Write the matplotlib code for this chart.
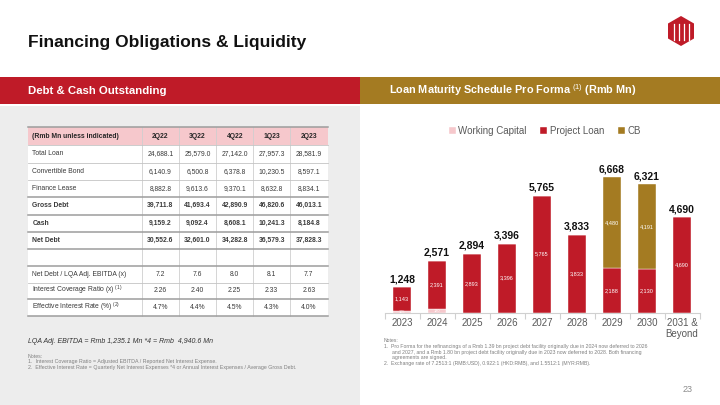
import numpy as np
import matplotlib
matplotlib.use('Agg')
import matplotlib.pyplot as plt
from matplotlib.patches import Rectangle, Polygon

plt.rcParams['font.family'] = ['Liberation Sans', 'DejaVu Sans']
plt.rcParams['mathtext.fontset'] = 'custom'
plt.rcParams['mathtext.rm'] = 'Liberation Sans'
plt.rcParams['mathtext.it'] = 'Liberation Sans:italic'
plt.rcParams['mathtext.bf'] = 'Liberation Sans:bold'

# table data (Rmb Mn)
quarters = ['2Q22', '3Q22', '4Q22', '1Q23', '2Q23']
total_loan = [24688.1, 25579.0, 27142.0, 27957.3, 28581.9]
convertible_bond = [6140.9, 6500.8, 6378.8, 10230.5, 8597.1]
finance_lease = [8882.8, 9613.6, 9370.1, 8632.8, 8834.1]
gross_debt = [39711.8, 41693.4, 42890.9, 46820.6, 46013.1]
cash = [9159.2, 9092.4, 8608.1, 10241.3, 8184.8]
net_debt = [30552.6, 32601.0, 34282.8, 36579.3, 37828.3]
net_debt_ebitda = [7.2, 7.6, 8.0, 8.1, 7.7]
interest_coverage = [2.26, 2.40, 2.25, 2.33, 2.63]
effective_rate = [4.7, 4.4, 4.5, 4.3, 4.0]

# maturity schedule data (Rmb Mn)
years = ['2023', '2024', '2025', '2026', '2027', '2028', '2029', '2030', '2031 &\nBeyond']
working_capital = [105, 180, 1, 0, 0, 0, 0, 0, 0]
project_loan = [1143, 2391, 2893, 3396, 5765, 3833, 2188, 2130, 4690]
cb = [0, 0, 0, 0, 0, 0, 4480, 4191, 0]

RED = '#bf1b28'
GOLD = '#a47b22'
PINK = '#f6c8cc'
GREY_TXT = '#595959'
TFS = 4.9  # table font size

fig = plt.figure(figsize=(7.2, 4.05), dpi=100)
bg = fig.add_axes([0, 0, 1, 1], zorder=0)
bg.set_xlim(0, 720)
bg.set_ylim(405, 0)
bg.axis('off')

# panels and header bands
bg.add_patch(Rectangle((0, 105.5), 360, 300, color='#ededed', lw=0))
bg.add_patch(Rectangle((0, 77), 360, 26.5, color=RED, lw=0))
bg.add_patch(Rectangle((360, 77), 360, 26.5, color=GOLD, lw=0))

bg.text(28, 42, 'Financing Obligations & Liquidity', fontsize=12.5, weight='bold',
        va='center', color='#111111')
bg.text(28, 90.5, 'Debt & Cash Outstanding', fontsize=8.2, weight='bold', color='white', va='center')
bg.text(389, 90.5, r'Loan Maturity Schedule Pro Forma $^{(1)}$ (Rmb Mn)', fontsize=7.8,
        weight='bold', color='white', va='center')

# logo
hexagon = [(681, 16), (694, 23.5), (694, 38.5), (681, 46), (668, 38.5), (668, 23.5)]
bg.add_patch(Polygon(hexagon, closed=True, color=RED, lw=0))
for lx in [673.5, 678.5, 683.5, 688.5]:
    bg.plot([lx, lx], [24, 40], color='white', lw=0.9)

# ---- table ----
col_x = [28.3, 141.7, 179, 216, 253.3, 290, 327.5]
row_y = [127, 145, 162.5, 180, 197, 214.5, 232, 249, 265.5, 282.5, 299, 316]

def fmt_num(v):
    return f'{v:,.1f}'

rows = [
    ('Total Loan', [fmt_num(v) for v in total_loan], False),
    ('Convertible Bond', [fmt_num(v) for v in convertible_bond], False),
    ('Finance Lease', [fmt_num(v) for v in finance_lease], False),
    ('Gross Debt', [fmt_num(v) for v in gross_debt], True),
    ('Cash', [fmt_num(v) for v in cash], True),
    ('Net Debt', [fmt_num(v) for v in net_debt], True),
    ('', ['', '', '', '', ''], False),
    ('Net Debt / LQA Adj. EBITDA (x)', [f'{v:.1f}' for v in net_debt_ebitda], False),
    (r'Interest Coverage Ratio (x) $^{(1)}$', [f'{v:.2f}' for v in interest_coverage], False),
    (r'Effective Interest Rate (%) $^{(2)}$', [f'{v:.1f}%' for v in effective_rate], False),
]

bg.add_patch(Rectangle((col_x[0], row_y[0]), col_x[-1] - col_x[0], row_y[1] - row_y[0],
                       color=PINK, lw=0))
bg.add_patch(Rectangle((col_x[0], row_y[1]), col_x[-1] - col_x[0], row_y[-1] - row_y[1],
                       color='white', lw=0))
for cx in col_x[1:-1]:
    bg.plot([cx, cx], [row_y[0], row_y[-1]], color='#cfcfcf', lw=0.6)

thick = {0, 4, 5, 6, 7, 8, 10, 11}
for i, ry in enumerate(row_y):
    if i in thick:
        bg.plot([col_x[0], col_x[-1]], [ry, ry], color='#9d9d9d', lw=1.1)
    else:
        bg.plot([col_x[0], col_x[-1]], [ry, ry], color='#c4c4c4', lw=0.6)

mid = (row_y[0] + row_y[1]) / 2
bg.text(col_x[0] + 4, mid, '(Rmb Mn unless indicated)', fontsize=TFS, weight='bold',
        va='center', color='#262626')
for j, q in enumerate(quarters):
    bg.text((col_x[j + 1] + col_x[j + 2]) / 2, mid, q, fontsize=TFS, weight='bold',
            ha='center', va='center', color='#262626')

for i, (label, vals, bold) in enumerate(rows):
    ymid = (row_y[i + 1] + row_y[i + 2]) / 2
    w = 'bold' if bold else 'normal'
    bg.text(col_x[0] + 4, ymid, label, fontsize=TFS, weight=w, va='center', color='#3a3a3a')
    for j, v in enumerate(vals):
        bg.text((col_x[j + 1] + col_x[j + 2]) / 2, ymid, v, fontsize=TFS, weight=w,
                ha='center', va='center', color='#3a3a3a')

bg.text(28, 341.5, 'LQA Adj. EBITDA = Rmb 1,235.1 Mn *4 = Rmb  4,940.6 Mn', fontsize=5,
        style='italic', va='center', color='#333333')
left_notes = ['Notes:',
              '1.  Interest Coverage Ratio = Adjusted EBITDA / Reported Net Interest Expense.',
              '2.  Effective Interest Rate = Quarterly Net Interest Expenses *4 or Annual Interest Expenses / Average Gross Debt.']
for k, t in enumerate(left_notes):
    bg.text(28, 356 + k * 5.8, t, fontsize=3.8, va='center', color='#7f7f7f')

right_notes = [(384, 'Notes:'),
               (384, '1.  Pro Forma for the refinancings of a Rmb 1.39 bn project debt facility originally due in 2024 now deferred to 2026'),
               (392, 'and 2027, and a Rmb 1.80 bn project debt facility originally due in 2023 now deferred to 2028. Both financing'),
               (392, 'agreements are signed.'),
               (384, '2.  Exchange rate of 7.2513:1 (RMB:USD), 0.922:1 (HKD:RMB), and 1.5512:1 (MYR:RMB).')]
for k, (tx, t) in enumerate(right_notes):
    bg.text(tx, 341 + k * 5.6, t, fontsize=3.7, va='center', color='#7f7f7f')

bg.text(688, 389, '23', fontsize=6.5, ha='center', va='center', color='#8c8c8c')

# ---- maturity chart ----
base_px = 312.7
top_px = 140.0
ax = fig.add_axes([384.5 / 720, 1 - base_px / 405, 315 / 720, (base_px - top_px) / 405], zorder=2)
ax.patch.set_alpha(0)

x = np.arange(len(years))
wc = np.array(working_capital)
pl = np.array(project_loan)
cbv = np.array(cb)
totals = wc + pl + cbv
width = 0.5

ax.bar(x, wc, width, color=PINK, edgecolor='white', linewidth=0.3, label='Working Capital')
ax.bar(x, pl, width, bottom=wc, color=RED, edgecolor='white', linewidth=0.3, label='Project Loan')
ax.bar(x, cbv, width, bottom=wc + pl, color=GOLD, edgecolor='white', linewidth=0.3, label='CB')

for i in range(len(x)):
    if wc[i] > 50:
        ax.text(x[i], wc[i] / 2, f'{wc[i]:,}', fontsize=2.8, ha='center', va='center', color='white')
    if pl[i] > 0:
        ax.text(x[i], wc[i] + pl[i] / 2, f'{pl[i]:,}', fontsize=4, ha='center', va='center', color='white')
    if cbv[i] > 0:
        ax.text(x[i], wc[i] + pl[i] + cbv[i] / 2, f'{cbv[i]:,}', fontsize=4, ha='center',
                va='center', color='white')
    ax.text(x[i], totals[i] + 160, f'{totals[i]:,}', fontsize=7.5, weight='bold', ha='center',
            va='bottom', color='#111111')

ax.set_xlim(-0.5, len(years) - 0.5)
ax.set_ylim(0, (base_px - top_px) / 0.0203)
for s in ['top', 'right', 'left']:
    ax.spines[s].set_visible(False)
ax.spines['bottom'].set_color('#d0d0d0')
ax.spines['bottom'].set_linewidth(0.8)
ax.set_yticks([])
ax.set_xticks(x)
ax.set_xticklabels(years, fontsize=7, color=GREY_TXT, linespacing=1.05)
ax.tick_params(axis='x', which='major', length=0, pad=4)
ax.set_xticks(np.arange(-0.5, len(years), 1), minor=True)
ax.tick_params(axis='x', which='minor', length=4, color='#d0d0d0', width=0.8)

fig.legend(loc='center', bbox_to_anchor=(545 / 720, 1 - 131 / 405), ncol=3, frameon=False,
           fontsize=7, handlelength=0.7, handleheight=0.7, handletextpad=0.3,
           columnspacing=1.4, labelcolor=GREY_TXT)

fig.savefig('out.png', dpi=100)
